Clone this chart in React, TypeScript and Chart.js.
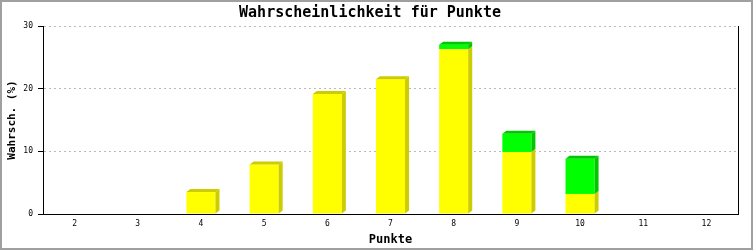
import React, { useEffect, useRef } from "react";
import { Chart, registerables } from "chart.js";

Chart.register(...registerables);

const categories = ["2", "3", "4", "5", "6", "7", "8", "9", "10", "11", "12"];
const yellowValues = [0, 0, 3.5, 7.9, 19.15, 21.5, 26.3, 9.9, 3.2, 0, 0];
const greenValues = [0, 0, 0, 0, 0, 0, 0.7, 2.9, 5.6, 0, 0];
const yTicks = [0, 10, 20, 30];

const FONT = "'DejaVu Sans Mono', monospace";
const DX = 4;
const DY = 3;

const bar3d = {
  id: "bar3d",
  afterDatasetsDraw(chart: any) {
    const ctx = chart.ctx;
    const n = chart.data.labels.length;
    const tops: any[] = new Array(n).fill(null);
    ctx.save();
    chart.data.datasets.forEach((ds: any, di: number) => {
      const meta = chart.getDatasetMeta(di);
      meta.data.forEach((el: any, i: number) => {
        const v = ds.data[i];
        if (!v) return;
        const { x, y, base, width } = el.getProps(["x", "y", "base", "width"], true);
        const r = x + width / 2;
        ctx.fillStyle = ds.sideColor;
        ctx.beginPath();
        ctx.moveTo(r, y);
        ctx.lineTo(r + DX, y - DY);
        ctx.lineTo(r + DX, base - DY);
        ctx.lineTo(r, base);
        ctx.closePath();
        ctx.fill();
        tops[i] = { x, y, width, color: ds.sideColor };
      });
    });
    tops.forEach((t) => {
      if (!t) return;
      const l = t.x - t.width / 2;
      const r = t.x + t.width / 2;
      ctx.fillStyle = t.color;
      ctx.beginPath();
      ctx.moveTo(l, t.y);
      ctx.lineTo(l + DX, t.y - DY);
      ctx.lineTo(r + DX, t.y - DY);
      ctx.lineTo(r, t.y);
      ctx.closePath();
      ctx.fill();
    });
    ctx.restore();
  },
};

const rightBorder = {
  id: "rightBorder",
  afterDraw(chart: any) {
    const { ctx, chartArea } = chart;
    ctx.save();
    ctx.strokeStyle = "#000";
    ctx.lineWidth = 1;
    ctx.beginPath();
    const x = Math.round(chartArea.right) + 0.5;
    ctx.moveTo(x, chartArea.top);
    ctx.lineTo(x, chartArea.bottom);
    ctx.stroke();
    ctx.restore();
  },
};

export default function App() {
  const ref = useRef<HTMLCanvasElement>(null);
  useEffect(() => {
    document.body.style.margin = "0";
    const chart = new Chart(ref.current as HTMLCanvasElement, {
      type: "bar",
      data: {
        labels: categories,
        datasets: [
          {
            label: "Gelb",
            data: yellowValues,
            backgroundColor: "#ffff00",
            sideColor: "#cccc00",
            borderWidth: 0,
            categoryPercentage: 1,
            barPercentage: 0.46,
          } as any,
          {
            label: "Grün",
            data: greenValues,
            backgroundColor: "#00ff00",
            sideColor: "#00c800",
            borderWidth: 0,
            categoryPercentage: 1,
            barPercentage: 0.46,
          } as any,
        ],
      },
      options: {
        animation: false,
        responsive: false,
        devicePixelRatio: 1,
        layout: { padding: { left: 0, right: 13, top: 0, bottom: 0 } },
        plugins: {
          legend: { display: false },
          tooltip: { enabled: false },
          title: {
            display: true,
            text: "Wahrscheinlichkeit für Punkte",
            color: "#000",
            font: { family: FONT, size: 15, weight: "bold", lineHeight: 1.2 },
            padding: { top: 2, bottom: 4 },
          },
        },
        scales: {
          x: {
            stacked: true,
            grid: { display: false, drawTicks: false },
            border: { display: true, color: "#000", width: 1 },
            ticks: {
              color: "#000",
              font: { family: FONT, size: 8 },
              padding: 5,
              maxRotation: 0,
              autoSkip: false,
            },
            title: {
              display: true,
              text: "Punkte",
              color: "#000",
              font: { family: FONT, size: 12, weight: "bold", lineHeight: 1.2 },
              padding: { top: 0, bottom: 1 },
            },
            afterFit(scale: any) {
              scale.height = 34;
            },
          },
          y: {
            stacked: true,
            min: 0,
            max: 30,
            afterBuildTicks(scale: any) {
              scale.ticks = yTicks.map((v) => ({ value: v }));
            },
            grid: {
              color: (c: any) => (c.tick && c.tick.value === 0 ? "rgba(0,0,0,0)" : "#bbbbbb"),
              tickColor: "#000",
              tickLength: 5,
              tickBorderDash: [],
              drawTicks: true,
            },
            border: { display: true, color: "#000", width: 1, dash: [2, 3] },
            ticks: {
              color: "#000",
              font: { family: FONT, size: 8 },
              padding: 5,
            },
            title: {
              display: true,
              text: "Wahrsch. (%)",
              color: "#000",
              font: { family: FONT, size: 11, weight: "bold", lineHeight: 1.2 },
              padding: { top: 4, bottom: 0 },
            },
            afterFit(scale: any) {
              scale.width = 41;
            },
          },
        },
      } as any,
      plugins: [bar3d, rightBorder],
    });
    return () => chart.destroy();
  }, []);
  return (
    <div
      style={{
        width: 753,
        height: 250,
        boxSizing: "border-box",
        border: "2px solid #a0a0a0",
        background: "#fff",
      }}
    >
      <canvas ref={ref} width={749} height={246} style={{ display: "block" }} />
    </div>
  );
}
